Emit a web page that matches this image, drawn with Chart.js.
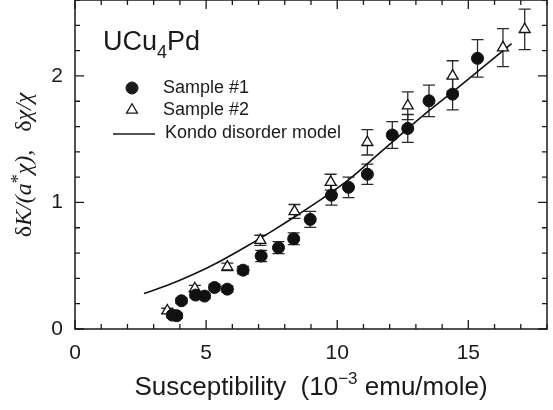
<!DOCTYPE html>
<html>
<head>
<meta charset="utf-8">
<title>UCu4Pd</title>
<script src="https://cdn.jsdelivr.net/npm/chart.js@4.4.0/dist/chart.umd.min.js"></script>
<style>
    html, body { margin: 0; padding: 0; background: #fff; }
</style>
</head>
<body>
<canvas id="chart" width="553" height="410"></canvas>
<script>
// Sample #1 (filled circles)
const sample1_x = [3.71, 3.88, 4.06, 4.60, 4.94, 5.32, 5.81, 6.41, 7.10, 7.76, 8.34, 8.97, 9.78, 10.43, 11.15, 12.10, 12.69, 13.50, 14.40, 15.35];
const sample1_y = [0.110, 0.105, 0.223, 0.268, 0.260, 0.328, 0.315, 0.465, 0.577, 0.643, 0.713, 0.866, 1.057, 1.120, 1.223, 1.533, 1.585, 1.803, 1.856, 2.139];
const sample1_err = [0.02, 0.02, 0.02, 0.02, 0.02, 0.025, 0.025, 0.03, 0.045, 0.047, 0.046, 0.063, 0.078, 0.081, 0.08, 0.106, 0.11, 0.124, 0.124, 0.148];

// Sample #2 (open triangles)
const sample2_x = [3.52, 4.57, 5.81, 7.07, 8.37, 9.75, 11.15, 12.69, 14.40, 16.32, 17.15];
const sample2_y = [0.144, 0.320, 0.491, 0.701, 0.929, 1.160, 1.475, 1.764, 2.000, 2.223, 2.368];
const sample2_err = [0.02, 0.025, 0.03, 0.04, 0.055, 0.063, 0.10, 0.11, 0.12, 0.15, 0.16];

// Kondo disorder model curve
const model_x = [2.63, 3.5, 4.5, 5.5, 6.5, 7.5, 8.5, 9.5, 10.5, 11.5, 12.5, 13.5, 14.5, 15.5, 16.65];
const model_y = [0.281, 0.343, 0.43, 0.532, 0.648, 0.772, 0.903, 1.04, 1.19, 1.37, 1.55, 1.725, 1.89, 2.06, 2.255];

// axes
const x_major_ticks = [0, 5, 10, 15];
const y_major_ticks = [0, 1, 2];
const x_range = [0, 18];
const y_range = [0, 2.6];
const x_minor_step = 1;
const y_minor_step = 0.2;

const legend_labels = ["Sample #1", "Sample #2", "Kondo disorder model"];

const INK = "#1a1a1a";
const SANS = "'Liberation Sans', Arial, sans-serif";
const SERIF = "'Liberation Serif', 'Times New Roman', serif";

const toPoints = (xs, ys) => xs.map((x, i) => ({ x: x, y: ys[i] }));

const drawErrorBars = (chart, xs, ys, errs) => {
    const ctx = chart.ctx;
    const sx = chart.scales.x;
    const sy = chart.scales.y;
    ctx.save();
    ctx.strokeStyle = "#2a2a2a";
    ctx.lineWidth = 1.3;
    xs.forEach((x, i) => {
        const px = sx.getPixelForValue(x);
        const top = sy.getPixelForValue(ys[i] + errs[i]);
        const bot = sy.getPixelForValue(ys[i] - errs[i]);
        ctx.beginPath();
        ctx.moveTo(px, top);
        ctx.lineTo(px, bot);
        ctx.moveTo(px - 6, top);
        ctx.lineTo(px + 6, top);
        ctx.moveTo(px - 6, bot);
        ctx.lineTo(px + 6, bot);
        ctx.stroke();
    });
    ctx.restore();
};

// draws a run of text pieces, returns end x
const drawPieces = (ctx, pieces, x, y) => {
    pieces.forEach((p) => {
        ctx.font = p.font;
        ctx.fillText(p.text, x, y + (p.dy || 0));
        x += ctx.measureText(p.text).width;
    });
    return x;
};

const measurePieces = (ctx, pieces) => {
    let w = 0;
    pieces.forEach((p) => {
        ctx.font = p.font;
        w += ctx.measureText(p.text).width;
    });
    return w;
};

// no extra room for tick labels, so the frame can sit at the canvas top
const noScalePadding = (scale) => {
    scale.paddingTop = 0;
    scale.paddingBottom = 0;
    scale.paddingLeft = 0;
    scale.paddingRight = 0;
};

const framePlugin = {
    id: "frame",
    beforeDatasetsDraw(chart) {
        drawErrorBars(chart, sample2_x, sample2_y, sample2_err);
        drawErrorBars(chart, sample1_x, sample1_y, sample1_err);
    },
    afterDraw(chart) {
        const ctx = chart.ctx;
        const area = chart.chartArea;
        const sx = chart.scales.x;
        const sy = chart.scales.y;

        ctx.save();
        ctx.strokeStyle = INK;
        ctx.lineWidth = 1.5;
        ctx.strokeRect(area.left, area.top, area.right - area.left, area.bottom - area.top);

        // inward ticks on all four sides
        ctx.lineWidth = 1.3;
        ctx.beginPath();
        const nx = Math.round((x_range[1] - x_range[0]) / x_minor_step);
        for (let i = 0; i <= nx; i++) {
            const v = x_range[0] + i * x_minor_step;
            const len = x_major_ticks.includes(v) ? 9 : 5;
            const px = sx.getPixelForValue(v);
            ctx.moveTo(px, area.bottom);
            ctx.lineTo(px, area.bottom - len);
            ctx.moveTo(px, area.top);
            ctx.lineTo(px, area.top + len);
        }
        const ny = Math.round((y_range[1] - y_range[0]) / y_minor_step);
        for (let i = 0; i <= ny; i++) {
            const v = +(y_range[0] + i * y_minor_step).toFixed(3);
            const len = y_major_ticks.includes(v) ? 9 : 5;
            const py = sy.getPixelForValue(v);
            ctx.moveTo(area.left, py);
            ctx.lineTo(area.left + len, py);
            ctx.moveTo(area.right, py);
            ctx.lineTo(area.right - len, py);
        }
        ctx.stroke();

        ctx.fillStyle = INK;
        ctx.textBaseline = "alphabetic";
        ctx.textAlign = "left";

        // compound name
        drawPieces(ctx, [
            { text: "UCu", font: `27px ${SANS}` },
            { text: "4", font: `18px ${SANS}`, dy: 8 },
            { text: "Pd", font: `27px ${SANS}` },
        ], 103, 50);

        // legend
        ctx.textBaseline = "middle";
        ctx.font = `18px ${SANS}`;
        const ds = chart.data.datasets;
        ctx.fillStyle = INK;
        ctx.strokeStyle = INK;
        ctx.lineWidth = 1;
        Chart.helpers.drawPoint(ctx, { pointStyle: "circle", radius: 6, rotation: 0, borderWidth: 1 }, 132, 88);
        ctx.fillStyle = "#fff";
        ctx.lineWidth = 1.3;
        Chart.helpers.drawPoint(ctx, { pointStyle: "triangle", radius: 6.3, rotation: 0, borderWidth: 1.3 }, 132, 110);
        ctx.lineWidth = 1.6;
        ctx.beginPath();
        ctx.moveTo(113, 134);
        ctx.lineTo(155, 134);
        ctx.stroke();
        ctx.fillStyle = INK;
        ctx.fillText(ds[0].label, 163, 88);
        ctx.fillText(ds[1].label, 163, 110);
        ctx.fillText(ds[2].label, 165, 133);

        // x axis title
        ctx.textBaseline = "alphabetic";
        const xTitle = [
            { text: "Susceptibility  (10", font: `26px ${SANS}` },
            { text: "\u22123", font: `17px ${SANS}`, dy: -11 },
            { text: " emu/mole)", font: `26px ${SANS}` },
        ];
        const xw = measurePieces(ctx, xTitle);
        drawPieces(ctx, xTitle, (area.left + area.right) / 2 - xw / 2, 395);

        // y axis title, rotated
        const yTitle = [
            { text: "\u03b4", font: `24px ${SERIF}` },
            { text: "K", font: `italic 24px ${SERIF}` },
            { text: "/(", font: `italic 24px ${SERIF}` },
            { text: "a", font: `italic 24px ${SERIF}` },
            { text: "*", font: `18px ${SERIF}`, dy: -7 },
            { text: "\u03c7", font: `italic 24px ${SERIF}` },
            { text: "),", font: `italic 24px ${SERIF}` },
            { text: "   ", font: `24px ${SERIF}` },
            { text: "\u03b4", font: `24px ${SERIF}` },
            { text: "\u03c7", font: `italic 24px ${SERIF}` },
            { text: "/", font: `italic 24px ${SERIF}` },
            { text: "\u03c7", font: `italic 24px ${SERIF}` },
        ];
        ctx.translate(31, 165);
        ctx.rotate(-Math.PI / 2);
        const yw = measurePieces(ctx, yTitle);
        drawPieces(ctx, yTitle, -yw / 2, 0);
        ctx.restore();
    },
};

const ctx = document.querySelector("#chart");

new Chart(ctx, {
    type: "scatter",
    data: {
        datasets: [
            {
                label: legend_labels[0],
                data: toPoints(sample1_x, sample1_y),
                pointStyle: "circle",
                pointRadius: 6,
                pointHoverRadius: 6,
                backgroundColor: "#111",
                borderColor: "#111",
                borderWidth: 1,
            },
            {
                label: legend_labels[1],
                data: toPoints(sample2_x, sample2_y),
                pointStyle: "triangle",
                pointRadius: 6.3,
                pointHoverRadius: 6.3,
                backgroundColor: "#fff",
                borderColor: "#111",
                borderWidth: 1.3,
            },
            {
                label: legend_labels[2],
                data: toPoints(model_x, model_y),
                showLine: true,
                pointRadius: 0,
                borderColor: "#111",
                borderWidth: 1.6,
                cubicInterpolationMode: "monotone",
            },
        ],
    },
    options: {
        responsive: false,
        animation: false,
        layout: {
            autoPadding: false,
            padding: { top: 0, right: 6, left: 0, bottom: 0 },
        },
        plugins: {
            legend: { display: false },
            tooltip: { enabled: false },
        },
        scales: {
            x: {
                type: "linear",
                min: x_range[0],
                max: x_range[1],
                afterFit: (scale) => { scale.height = 81; noScalePadding(scale); },
                afterBuildTicks: (scale) => { scale.ticks = x_major_ticks.map((v) => ({ value: v })); },
                grid: { display: false },
                border: { display: false },
                ticks: {
                    stepSize: 5,
                    color: INK,
                    padding: 4,
                    maxRotation: 0,
                    font: { family: SANS, size: 21 },
                },
            },
            y: {
                type: "linear",
                min: y_range[0],
                max: y_range[1],
                afterFit: (scale) => { scale.width = 75; noScalePadding(scale); },
                afterBuildTicks: (scale) => { scale.ticks = y_major_ticks.map((v) => ({ value: v })); },
                grid: { display: false },
                border: { display: false },
                ticks: {
                    stepSize: 1,
                    color: INK,
                    padding: 4,
                    font: { family: SANS, size: 21 },
                },
            },
        },
    },
    plugins: [framePlugin],
});
</script>
</body>
</html>
